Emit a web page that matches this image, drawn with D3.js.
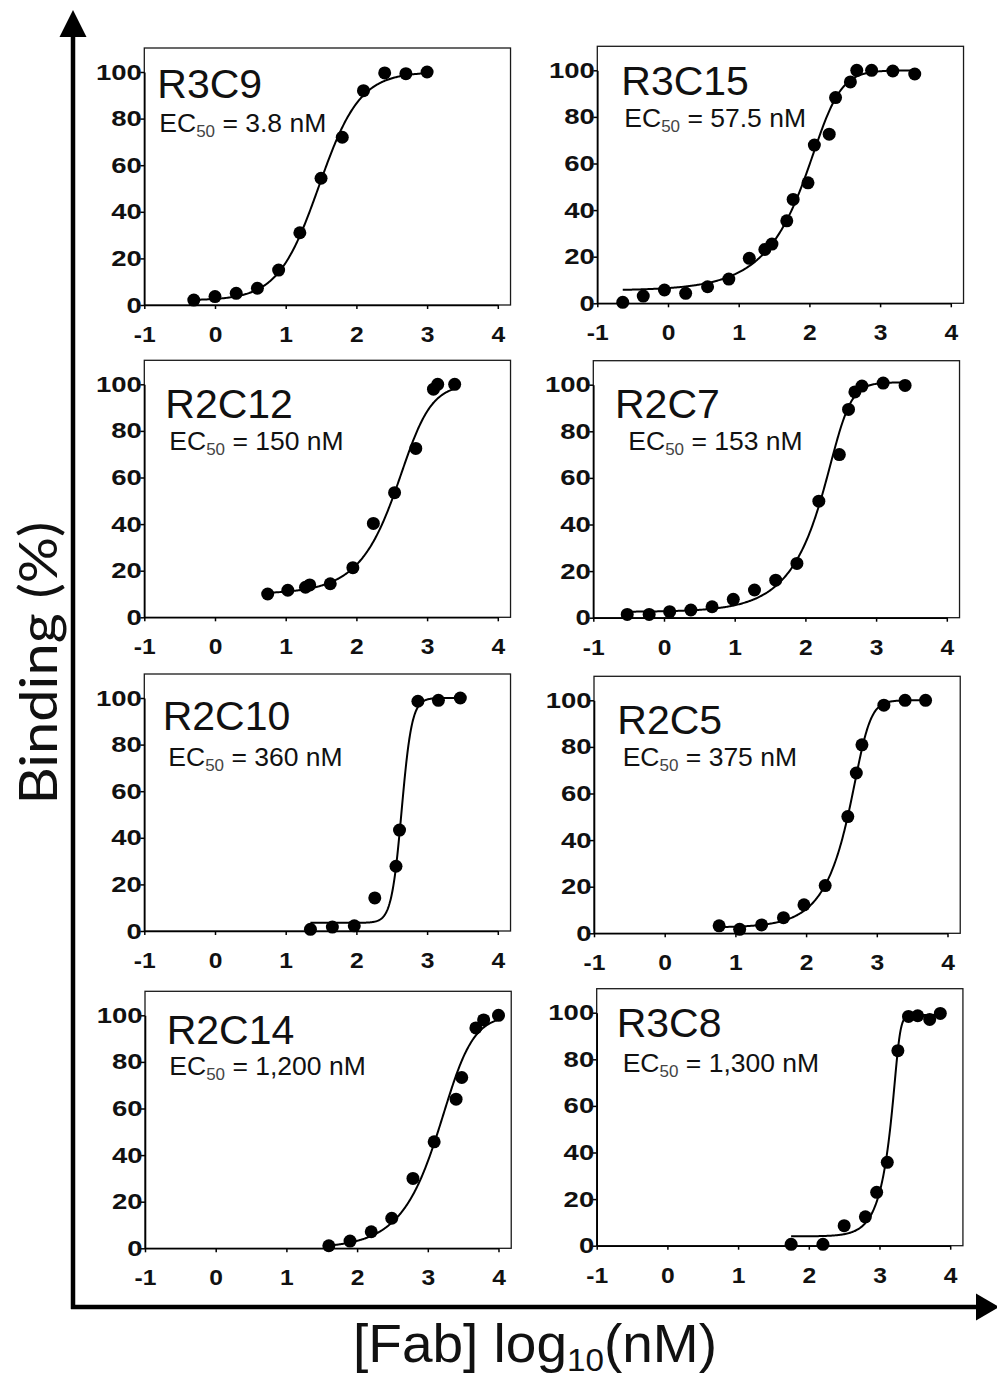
<!DOCTYPE html>
<html>
<head>
<meta charset="utf-8">
<script src="https://cdn.jsdelivr.net/npm/d3@7"></script>
<style>
  html, body { margin: 0; padding: 0; background: #fff; }
  svg { display: block; }
</style>
</head>
<body>
<svg id="fig" width="997" height="1380"></svg>
<script>
// Clone names and their EC50 annotations
const cloneNames = ["R3C9", "R3C15", "R2C12", "R2C7", "R2C10", "R2C5", "R2C14", "R3C8"];
const ec50Labels = ["3.8 nM", "57.5 nM", "150 nM", "153 nM", "360 nM", "375 nM", "1,200 nM", "1,300 nM"];

// Measured binding (%) versus log10 [Fab] (nM), one array per clone
const logConc = [
  [-0.3, 0, 0.3, 0.6, 0.9, 1.2, 1.5, 1.8, 2.1, 2.4, 2.7, 3.0],
  [-0.64, -0.35, -0.05, 0.25, 0.56, 0.86, 1.15, 1.37, 1.47, 1.68, 1.77, 1.98, 2.07, 2.28, 2.37, 2.58, 2.67, 2.88, 3.18, 3.49],
  [0.745, 1.03, 1.28, 1.34, 1.63, 1.95, 2.24, 2.54, 2.84, 3.09, 3.15, 3.39],
  [-0.52, -0.21, 0.08, 0.38, 0.68, 0.98, 1.28, 1.58, 1.88, 2.19, 2.48, 2.61, 2.70, 2.80, 3.10, 3.41],
  [1.35, 1.66, 1.97, 2.26, 2.56, 2.61, 2.87, 3.16, 3.47],
  [0.77, 1.06, 1.37, 1.68, 1.97, 2.27, 2.59, 2.71, 2.79, 3.10, 3.40, 3.69],
  [1.60, 1.90, 2.20, 2.49, 2.79, 3.09, 3.40, 3.48, 3.68, 3.79, 4.0],
  [1.75, 2.20, 2.50, 2.80, 2.96, 3.11, 3.26, 3.41, 3.54, 3.71, 3.86]
];
const bindingPct = [
  [2.1, 3.6, 5.0, 7.2, 15, 31, 54.4, 72, 92, 99.6, 99.3, 100],
  [0.4, 3.1, 5.7, 4.3, 7.1, 10.4, 19.3, 23.1, 25.4, 35.4, 44.6, 51.7, 67.9, 72.6, 88.3, 95, 100, 100, 99.7, 98.4],
  [10, 11.6, 12.9, 13.9, 14.4, 21.3, 40.3, 53.5, 72.5, 97.9, 100, 100],
  [1.4, 1.4, 2.6, 3.3, 4.7, 7.9, 11.9, 16.1, 23.3, 50, 70, 89.4, 96.9, 99.4, 100.7, 99.7],
  [0.7, 1.7, 2.2, 14.2, 27.8, 43.3, 98.6, 99, 100],
  [3.2, 1.7, 3.6, 6.7, 12.2, 20.5, 50.1, 68.8, 80.9, 97.9, 100, 100],
  [1.1, 3.1, 7.1, 12.9, 30, 45.7, 64, 73.3, 94.6, 98, 100],
  [0.6, 0.6, 8.6, 12.4, 22.9, 35.8, 83.7, 98.4, 98.7, 97.1, 99.7]
];

// Fitted dose-response parameters (bottom, top, log inflection, Hill slope, asymmetry)
const fitBottom = [2, 5.5, 10, 2.5, 3.5, 2.5, 0, 4];
const fitTop = [100, 100, 100, 101, 100, 100, 100, 99];
const fitLogC = [1.47, 2.24, 2.775, 2.51, 2.64, 2.81, 3.36, 3.27];
const fitHill = [1.5, 2.5, 2.2, 3.4, 6, 4.5, 2.2, 13];
const fitAsym = [1, 0.35, 0.5, 0.3, 1, 0.3, 0.5, 0.2];

// Axis ticks
const xTicks = [-1, 0, 1, 2, 3, 4];
const yTicks = [0, 20, 40, 60, 80, 100];

// Panel placement: pixel of x = -1 and of y = 0 for each panel, plus label offsets
const panelLayout = [
  { ox: 144.3, oy: 305.0, nameDx: 13, nameDy: 26, ecDx: 15, ecDy: 59.5 },
  { ox: 597.3, oy: 303.3, nameDx: 24, nameDy: 25, ecDx: 27, ecDy: 57 },
  { ox: 144.3, oy: 617.3, nameDx: 21, nameDy: 34, ecDx: 25, ecDy: 65.7 },
  { ox: 593.3, oy: 617.7, nameDx: 21.7, nameDy: 33.4, ecDx: 35, ecDy: 65 },
  { ox: 144.3, oy: 931.0, nameDx: 18.4, nameDy: 31.7, ecDx: 24, ecDy: 67.7 },
  { ox: 594.0, oy: 933.3, nameDx: 23.3, nameDy: 33.3, ecDx: 28.7, ecDy: 66 },
  { ox: 145.0, oy: 1248.3, nameDx: 21.7, nameDy: 28.3, ecDx: 24.3, ecDy: 60 },
  { ox: 596.7, oy: 1245.7, nameDx: 20, nameDy: 24, ecDx: 26, ecDy: 59.6 }
];
const unitW = 70.7;   // pixels per log unit
const pctH = 2.33;    // pixels per percent

const svg = d3.select("#fig");
const tickFont = "'Liberation Sans', Arial, sans-serif";

function dose(i, x) {
  const e = Math.pow(10, (fitLogC[i] - x) * fitHill[i]);
  return fitBottom[i] + (fitTop[i] - fitBottom[i]) / Math.pow(1 + e, fitAsym[i]);
}

cloneNames.forEach((name, i) => {
  const L = panelLayout[i];
  const x = d3.scaleLinear().domain([-1, 4]).range([L.ox, L.ox + 5 * unitW]);
  const y = d3.scaleLinear().domain([0, 100]).range([L.oy, L.oy - 100 * pctH]);
  const g = svg.append("g");

  // panel frame
  g.append("rect")
    .attr("x", x(-1)).attr("y", y(110.3))
    .attr("width", x(4.18) - x(-1)).attr("height", y(0) - y(110.3))
    .attr("fill", "none").attr("stroke", "#1a1a1a").attr("stroke-width", 1.3);

  // axes
  const fmt = d => String(d).replace("\u2212", "-");
  const yAxis = d3.axisLeft(y).tickValues(yTicks).tickFormat(fmt).tickSize(4).tickSizeOuter(0);
  const xAxis = d3.axisBottom(x).tickValues(xTicks).tickFormat(fmt).tickSize(4).tickSizeOuter(0);
  const ga = g.append("g").attr("transform", `translate(${x(-1)},0)`).call(yAxis);
  const gb = g.append("g").attr("transform", `translate(0,${y(0)})`).call(xAxis);
  [ga, gb].forEach(a => {
    a.select(".domain").attr("stroke", "#000").attr("stroke-width", 1.6);
    a.selectAll(".tick line").attr("stroke", "#000").attr("stroke-width", 1.5);
    a.selectAll(".tick text")
      .attr("fill", "#111")
      .style("font-family", tickFont)
      .style("font-weight", "bold")
      .style("font-size", "22px");
  });
  ga.selectAll(".tick text").attr("x", 0).attr("transform", "translate(-2.5,0) scale(1.25,1)");
  gb.selectAll(".tick text").attr("y", 0).attr("transform", "translate(0,21.5) scale(1.12,1)");

  // fitted curve
  const xs = logConc[i];
  const x0 = d3.min(xs), x1 = d3.max(xs);
  const samples = d3.range(0, 301).map(k => x0 + (x1 - x0) * k / 300);
  g.append("path")
    .datum(samples)
    .attr("fill", "none").attr("stroke", "#000").attr("stroke-width", 2)
    .attr("d", d3.line().x(d => x(d)).y(d => y(dose(i, d))));

  // data points
  g.selectAll("circle.pt")
    .data(xs.map((v, k) => [v, bindingPct[i][k]]))
    .join("circle")
    .attr("class", "pt")
    .attr("cx", d => x(d[0])).attr("cy", d => y(d[1]))
    .attr("r", 6.5).attr("fill", "#000");

  // clone name and EC50
  g.append("text")
    .attr("x", x(-1) + L.nameDx).attr("y", y(100) + L.nameDy)
    .style("font-family", tickFont).style("font-size", "41px").attr("fill", "#111")
    .text(name);
  const ec = g.append("text")
    .attr("x", x(-1) + L.ecDx).attr("y", y(100) + L.ecDy)
    .style("font-family", tickFont).style("font-size", "26.5px").attr("fill", "#111");
  ec.append("tspan").text("EC");
  ec.append("tspan").attr("dy", 5).style("font-size", "17px").attr("fill", "#444").text("50");
  ec.append("tspan").attr("dy", -5).text(" = " + ec50Labels[i]);
});

// overall axes with arrowheads
const axisX = 73, axisY = 1307;
svg.append("line").attr("x1", axisX).attr("y1", 34).attr("x2", axisX).attr("y2", axisY + 2)
  .attr("stroke", "#000").attr("stroke-width", 4.5);
svg.append("line").attr("x1", axisX - 2).attr("y1", axisY).attr("x2", 980).attr("y2", axisY)
  .attr("stroke", "#000").attr("stroke-width", 4.5);
svg.append("path").attr("d", d3.line()([[axisX, 10], [axisX - 13.5, 37], [axisX + 13.5, 37]]) + "Z").attr("fill", "#000");
svg.append("path").attr("d", d3.line()([[999, axisY], [976, axisY - 13.5], [976, axisY + 13.5]]) + "Z").attr("fill", "#000");

// axis titles
svg.append("text")
  .attr("transform", "translate(57,663) rotate(-90)")
  .attr("text-anchor", "middle")
  .attr("textLength", 283).attr("lengthAdjust", "spacingAndGlyphs")
  .style("font-family", "Lato, 'Open Sans', sans-serif")
  .style("font-size", "53px").attr("fill", "#111")
  .text("Binding (%)");

const xt = svg.append("text")
  .attr("x", 535).attr("y", 1362)
  .attr("text-anchor", "middle")
  .attr("textLength", 364).attr("lengthAdjust", "spacingAndGlyphs")
  .style("font-family", tickFont)
  .style("font-size", "53px").attr("fill", "#111");
xt.append("tspan").text("[Fab] log");
xt.append("tspan").attr("dy", 9).style("font-size", "32px").text("10");
xt.append("tspan").attr("dy", -9).text("(nM)");
</script>
</body>
</html>
